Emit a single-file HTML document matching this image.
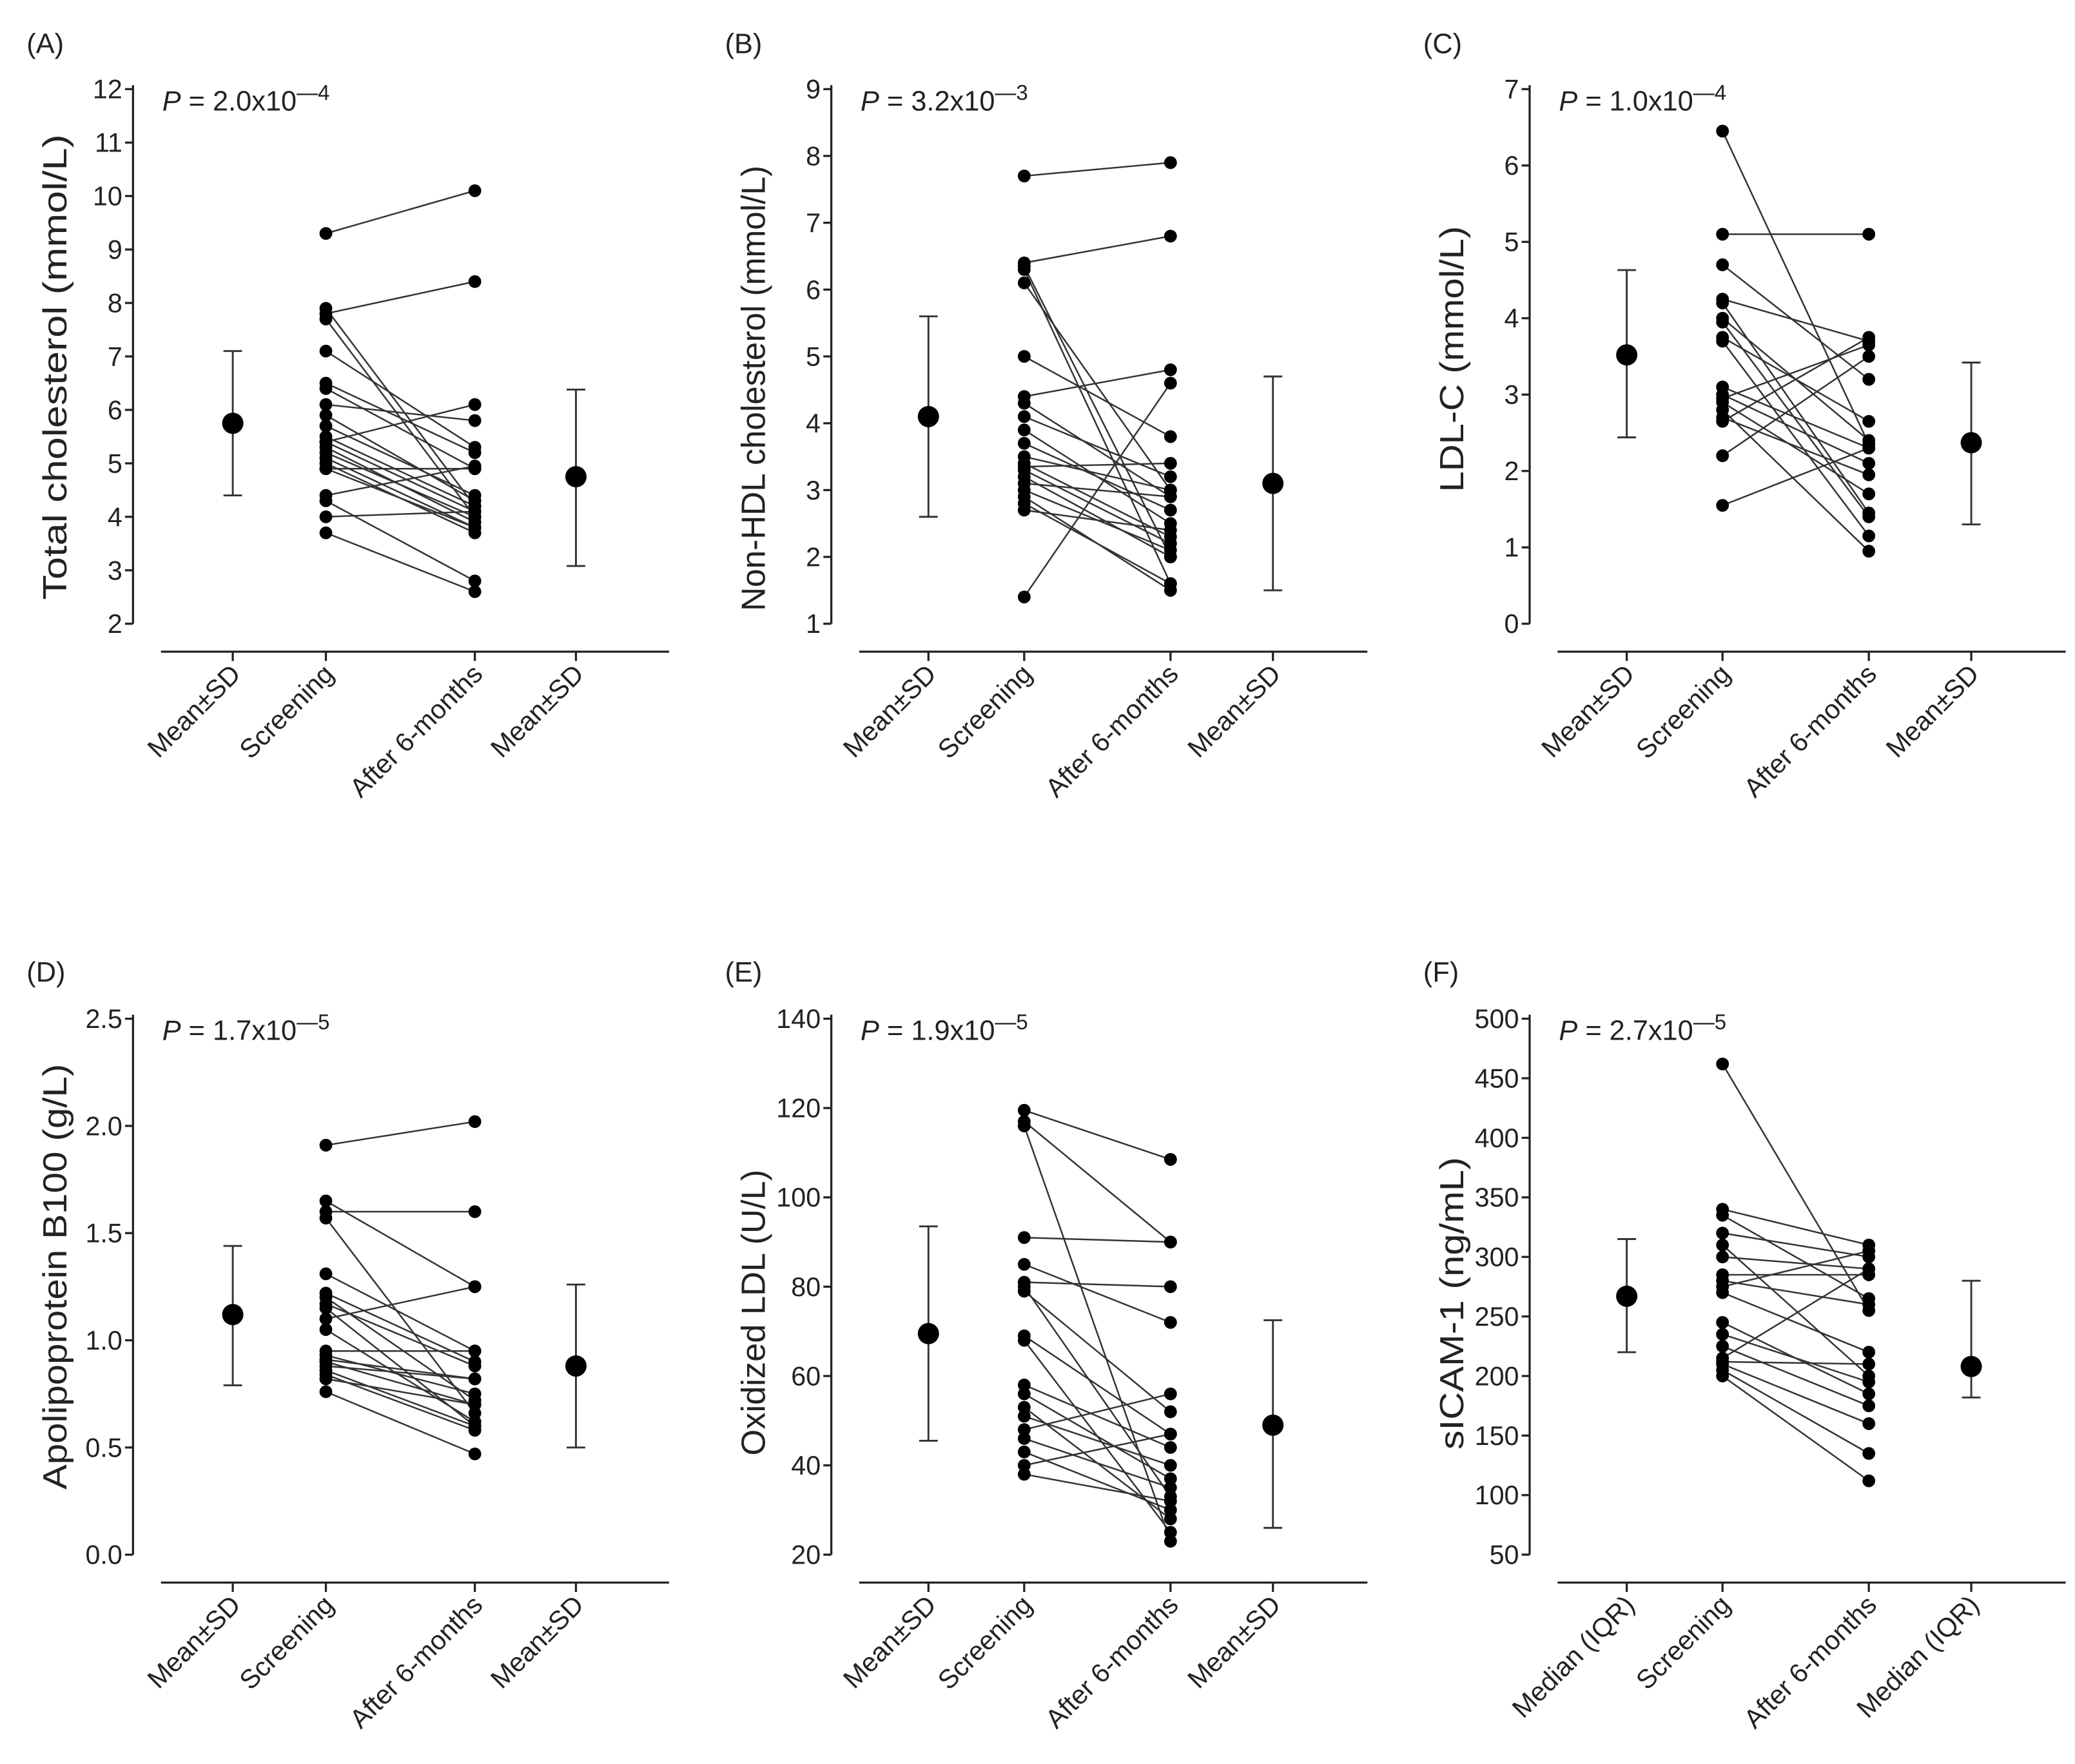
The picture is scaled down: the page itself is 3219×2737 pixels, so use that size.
<!DOCTYPE html>
<html><head><meta charset="utf-8">
<style>
html,body{margin:0;padding:0;background:#fff;}
svg{display:block;}
text{font-family:"Liberation Sans",Arial,sans-serif;fill:#222;}
</style></head>
<body>
<svg id="fig" width="3219" height="2737" viewBox="0 0 1560 1326.4" xmlns="http://www.w3.org/2000/svg"></svg>
<script>
// ---------- data ----------
const categories = ["Mean±SD","Screening","After 6-months","Mean±SD"];
const categoriesF = ["Median (IQR)","Screening","After 6-months","Median (IQR)"];
const panelLetters = ["(A)","(B)","(C)","(D)","(E)","(F)"];
const yTitles = ["Total cholesterol (mmol/L)","Non-HDL cholesterol (mmol/L)","LDL-C (mmol/L)","Apolipoprotein B100 (g/L)","Oxidized LDL (U/L)","sICAM-1 (ng/mL)"];
const pMant = ["2.0","3.2","1.0","1.7","1.9","2.7"];
const pExp = ["4","3","4","5","5","5"];
const ticksA = [2,3,4,5,6,7,8,9,10,11,12];
const ticksB = [1,2,3,4,5,6,7,8,9];
const ticksC = [0,1,2,3,4,5,6,7];
const ticksD = [0.0,0.5,1.0,1.5,2.0,2.5];
const ticksE = [20,40,60,80,100,120,140];
const ticksF = [50,100,150,200,250,300,350,400,450,500];
const screenA = [9.3,7.9,7.8,7.7,7.1,6.5,6.4,6.1,5.9,5.7,5.5,5.4,5.4,5.3,5.2,5.1,5.0,4.9,4.9,4.4,4.3,4.0,3.7];
const afterA  = [10.1,4.2,8.4,4.0,5.3,5.2,4.9,5.8,4.3,4.4,4.2,6.1,4.1,3.9,4.0,3.8,3.7,3.8,4.9,4.95,2.8,4.1,2.6];
const screenB = [7.7,6.4,6.35,6.3,6.1,5.0,4.4,4.3,4.1,3.9,3.7,3.5,3.4,3.35,3.3,3.2,3.1,3.0,2.9,2.7,2.8,1.4];
const afterB  = [7.9,6.8,2.0,1.6,3.0,3.8,4.8,2.9,3.2,2.5,2.7,3.0,2.3,3.4,2.2,2.0,2.9,2.1,1.5,2.4,1.6,4.6];
const screenC = [6.45,5.1,4.7,4.25,4.2,4.0,3.95,3.75,3.7,3.1,3.0,2.95,2.9,2.8,2.7,2.65,2.2,1.55];
const afterC  = [2.35,5.1,3.2,3.7,1.45,2.4,1.4,2.65,1.15,2.3,2.1,3.65,1.7,0.95,1.95,3.75,3.5,2.3];
const screenD = [1.91,1.65,1.6,1.57,1.31,1.22,1.2,1.17,1.15,1.1,1.05,0.95,0.93,0.91,0.9,0.88,0.86,0.84,0.82,0.76];
const afterD  = [2.02,1.25,1.6,0.66,0.95,0.9,0.72,0.88,0.6,1.25,0.62,0.95,0.75,0.82,0.7,0.82,0.6,0.58,0.7,0.47];
const screenE = [119.5,117,116,91,85,81,80,79,69,68,58,56,53,51,48,46,43,40,38];
const afterE  = [108.5,90,23,90,72,80,33,52,47,25,44,37,28,40,56,35,30,47,32];
const screenF = [462,340,335,320,310,300,285,280,275,270,245,235,225,215,212,210,205,200];
const afterF  = [255,310,265,300,200,290,285,260,305,220,185,195,175,290,210,160,135,112];
const summaryBefore = [[5.75,4.4,7.1],[4.1,2.6,5.6],[3.52,2.44,4.63],[1.12,0.79,1.44],[69.5,45.5,93.5],[267,220,315]];
const summaryAfter  = [[4.75,3.08,6.38],[3.1,1.5,4.7],[2.37,1.3,3.42],[0.88,0.5,1.26],[49,26,72.5],[208,182,280]];

const panels = [
  {ticks:ticksA, s:screenA, a:afterA, dec:0, cats:categories},
  {ticks:ticksB, s:screenB, a:afterB, dec:0, cats:categories},
  {ticks:ticksC, s:screenC, a:afterC, dec:0, cats:categories},
  {ticks:ticksD, s:screenD, a:afterD, dec:1, cats:categories},
  {ticks:ticksE, s:screenE, a:afterE, dec:0, cats:categories},
  {ticks:ticksF, s:screenF, a:afterF, dec:0, cats:categoriesF}
];
// ---------- layout ----------
const colX = [100,625,1150];
const rowTop = [67,766];
const rowBot = [469,1169];
const rowXAxis = [490,1190];
const titleLen = [350,335,200,320,215,220];
const titleCy = [276,292,270,960,987,980];
const NS = "http://www.w3.org/2000/svg";
const svg = document.getElementById('fig');
function el(tag, attrs, parent){
  const e = document.createElementNS(NS, tag);
  for (const k in attrs) e.setAttribute(k, attrs[k]);
  (parent||svg).appendChild(e);
  return e;
}
panels.forEach((p, i) => {
  const col = i%3, row = Math.floor(i/3);
  const ax = colX[col], top = rowTop[row], bot = rowBot[row], xa = rowXAxis[row];
  const g = el('g', {});
  
  
  const ymin = p.ticks[0], ymax = p.ticks[p.ticks.length-1];
  const y = v => bot - (v - ymin) / (ymax - ymin) * (bot - top);
  const catX = [ax+75, ax+145, ax+257, ax+333];
  if (col>0) { catX[0]=ax+73; catX[1]=ax+145; catX[2]=ax+255; catX[3]=ax+332; }
  const x = k => catX[k];
  const lt = el('text', {x: ax-80, y: row? 738:40, 'font-size': 21}, g);
  lt.textContent = panelLetters[i];
  
  
  const yl = el('line', {x1:ax, y1:top-3, x2:ax, y2:bot, stroke:'#222', 'stroke-width':1.6}, g);
  
  
  p.ticks.forEach(t => {
    el('line', {x1:ax-6, y1:y(t), x2:ax, y2:y(t), stroke:'#222', 'stroke-width':1.6}, g);
    const tt = el('text', {x:ax-8, y:y(t)+7, 'font-size':20, 'text-anchor':'end'}, g);
    tt.textContent = t.toFixed(p.dec);
    
    
  });
  const yt = el('text', {x:0, y:0, 'font-size':25, 'text-anchor':'middle', textLength:titleLen[i], lengthAdjust:'spacingAndGlyphs', transform:`translate(${ax-50},${titleCy[i]}) rotate(-90)`}, g);
  yt.textContent = yTitles[i];
  
  
  const xl = el('line', {x1:ax+21, y1:xa, x2:ax+403, y2:xa, stroke:'#222', 'stroke-width':1.6}, g);
  
  
  p.cats.forEach((c, k) => {
    el('line', {x1:x(k), y1:xa, x2:x(k), y2:xa+7, stroke:'#222', 'stroke-width':1.6}, g);
    const ct = el('text', {x:0, y:0, 'font-size':20, 'text-anchor':'end', transform:`translate(${x(k)+7},${xa+18}) rotate(-45)`}, g);
    ct.textContent = c;
    
    
  });
  const pt = el('text', {x:ax+22, y:top+16, 'font-size':21}, g);
  pt.innerHTML = '<tspan font-style="italic">P</tspan> = ' + pMant[i] + 'x10<tspan dy="-8" font-size="16">—' + pExp[i] + '</tspan>';
  
  
  p.s.forEach((v, j) => {
    const ln = el('line', {x1:x(1), y1:y(v), x2:x(2), y2:y(p.a[j]), stroke:'#333', 'stroke-width':1.2}, g);
    
    
  });
  p.s.forEach(v => {
    const c = el('circle', {cx:x(1), cy:y(v), r:4.8, fill:'#000'}, g);
    
    
  });
  p.a.forEach(v => {
    const c = el('circle', {cx:x(2), cy:y(v), r:4.8, fill:'#000'}, g);
    
    
  });
  [[0, summaryBefore[i]], [3, summaryAfter[i]]].forEach(([k, sm]) => {
    const cx = x(k);
    const eb = el('path', {d:`M${cx},${y(sm[1])}V${y(sm[2])}M${cx-7},${y(sm[1])}H${cx+7}M${cx-7},${y(sm[2])}H${cx+7}`, stroke:'#333', 'stroke-width':1.4, fill:'none'}, g);
    
    
    const mc = el('circle', {cx:cx, cy:y(sm[0]), r:8, fill:'#000'}, g);
    
    
  });
});
</script>
</body></html>
